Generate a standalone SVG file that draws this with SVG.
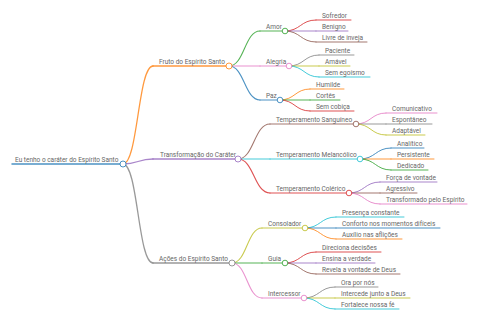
<svg xmlns="http://www.w3.org/2000/svg" width="480" height="320" viewBox="0 0 480 320">
<style>
.t{font-family:Roboto,"Liberation Sans",sans-serif;font-size:6.5px;fill:#666}
path,line{fill:none;stroke-linecap:round}
path,line,circle{stroke-opacity:0.8}
circle{fill:#fff}
.l0{stroke-width:1.5}.l1{stroke-width:1.3}.l2{stroke-width:1.1}.l3{stroke-width:1}
.blue{stroke:#1f77b4}.orange{stroke:#ff7f0e}.green{stroke:#2ca02c}.red{stroke:#d62728}.purple{stroke:#9467bd}.brown{stroke:#8c564b}.pink{stroke:#e377c2}.gray{stroke:#7f7f7f}.olive{stroke:#bcbd22}.cyan{stroke:#17becf}
</style>
<rect width="480" height="320" fill="#fff"/>
<g id="connectors">
<path class="l1 orange" d="M123,164 C138,164 138,66 153,66"/>
<path class="l1 purple" d="M123,164 C138,164 138,159 153,159"/>
<path class="l1 gray" d="M123,164 C138,164 138,263 153,263"/>
<path class="l2 green" d="M229,66 C244.5,66 244.5,31 260,31"/>
<path class="l2 pink" d="M229,66 L260,66"/>
<path class="l2 blue" d="M229,66 C244.5,66 244.5,100 260,100"/>
<path class="l2 brown" d="M238,159 C254,159 254,124 270,124"/>
<path class="l2 cyan" d="M238,159 L270,159"/>
<path class="l2 red" d="M238,159 C254,159 254,193 270,193"/>
<path class="l2 olive" d="M232,263 C247,263 247,228 262,228"/>
<path class="l2 green" d="M232,263 L262,263"/>
<path class="l2 pink" d="M232,263 C247,263 247,298 262,298"/>
<path class="l3 red" d="M285,31 C300.5,31 300.5,20 316,20"/>
<path class="l3 purple" d="M285,31 L316,31"/>
<path class="l3 brown" d="M285,31 C300.5,31 300.5,42 316,42"/>
<path class="l3 gray" d="M289,66 C304,66 304,55 319,55"/>
<path class="l3 olive" d="M289,66 L319,66"/>
<path class="l3 cyan" d="M289,66 C304,66 304,77 319,77"/>
<path class="l3 orange" d="M280,100 C295,100 295,89 310,89"/>
<path class="l3 green" d="M280,100 L310,100"/>
<path class="l3 red" d="M280,100 C295,100 295,111 310,111"/>
<path class="l3 pink" d="M356,124 C371,124 371,113 386,113"/>
<path class="l3 gray" d="M356,124 L386,124"/>
<path class="l3 olive" d="M356,124 C371,124 371,135 386,135"/>
<path class="l3 blue" d="M360,159 C375.5,159 375.5,148 391,148"/>
<path class="l3 orange" d="M360,159 L391,159"/>
<path class="l3 green" d="M360,159 C375.5,159 375.5,170 391,170"/>
<path class="l3 purple" d="M349,193 C364.5,193 364.5,182 380,182"/>
<path class="l3 brown" d="M349,193 L380,193"/>
<path class="l3 pink" d="M349,193 C364.5,193 364.5,204 380,204"/>
<path class="l3 cyan" d="M305,228 C320.5,228 320.5,217 336,217"/>
<path class="l3 blue" d="M305,228 L336,228"/>
<path class="l3 orange" d="M305,228 C320.5,228 320.5,239 336,239"/>
<path class="l3 red" d="M285,263 C300.5,263 300.5,252 316,252"/>
<path class="l3 purple" d="M285,263 L316,263"/>
<path class="l3 brown" d="M285,263 C300.5,263 300.5,274 316,274"/>
<path class="l3 gray" d="M304,298 C319.5,298 319.5,287 335,287"/>
<path class="l3 olive" d="M304,298 L335,298"/>
<path class="l3 cyan" d="M304,298 C319.5,298 319.5,309 335,309"/>
</g>
<g id="root"><line class="l0 blue" x1="12" y1="164" x2="123" y2="164"/><circle class="blue" cx="123" cy="164" r="3" stroke-width="1"/><text class="t" x="15" y="162">Eu tenho o caráter do Espírito Santo</text></g>
<g id="fruto"><line class="l1 orange" x1="153" y1="66" x2="229" y2="66"/><circle class="orange" cx="229" cy="66" r="3" stroke-width="1"/><text class="t" x="159" y="64">Fruto do Espírito Santo</text></g>
<g id="transformacao"><line class="l1 purple" x1="153" y1="159" x2="238" y2="159"/><circle class="purple" cx="238" cy="159" r="3" stroke-width="1"/><text class="t" x="160" y="157">Transformação do Caráter</text></g>
<g id="acoes"><line class="l1 gray" x1="153" y1="263" x2="232" y2="263"/><circle class="gray" cx="232" cy="263" r="3" stroke-width="1"/><text class="t" x="159" y="261">Ações do Espírito Santo</text></g>
<g id="amor"><line class="l2 green" x1="260" y1="31" x2="285" y2="31"/><circle class="green" cx="285" cy="31" r="2.8" stroke-width="1"/><text class="t" x="266" y="29">Amor</text></g>
<g id="alegria"><line class="l2 pink" x1="260" y1="66" x2="289" y2="66"/><circle class="pink" cx="289" cy="66" r="2.8" stroke-width="1"/><text class="t" x="266" y="64">Alegria</text></g>
<g id="paz"><line class="l2 blue" x1="260" y1="100" x2="280" y2="100"/><circle class="blue" cx="280" cy="100" r="2.8" stroke-width="1"/><text class="t" x="266" y="98">Paz</text></g>
<g id="sanguineo"><line class="l2 brown" x1="270" y1="124" x2="356" y2="124"/><circle class="brown" cx="356" cy="124" r="2.8" stroke-width="1"/><text class="t" x="276" y="122">Temperamento Sanguíneo</text></g>
<g id="melancolico"><line class="l2 cyan" x1="270" y1="159" x2="360" y2="159"/><circle class="cyan" cx="360" cy="159" r="2.8" stroke-width="1"/><text class="t" x="276" y="157">Temperamento Melancólico</text></g>
<g id="colerico"><line class="l2 red" x1="270" y1="193" x2="349" y2="193"/><circle class="red" cx="349" cy="193" r="2.8" stroke-width="1"/><text class="t" x="276" y="191">Temperamento Colérico</text></g>
<g id="consolador"><line class="l2 olive" x1="262" y1="228" x2="305" y2="228"/><circle class="olive" cx="305" cy="228" r="2.8" stroke-width="1"/><text class="t" x="268" y="226">Consolador</text></g>
<g id="guia"><line class="l2 green" x1="262" y1="263" x2="285" y2="263"/><circle class="green" cx="285" cy="263" r="2.8" stroke-width="1"/><text class="t" x="268" y="261">Guia</text></g>
<g id="intercessor"><line class="l2 pink" x1="262" y1="298" x2="304" y2="298"/><circle class="pink" cx="304" cy="298" r="2.8" stroke-width="1"/><text class="t" x="268" y="296">Intercessor</text></g>
<g id="sofredor"><line class="l3 red" x1="316" y1="20" x2="351" y2="20"/><text class="t" x="322" y="18">Sofredor</text></g>
<g id="benigno"><line class="l3 purple" x1="316" y1="31" x2="348" y2="31"/><text class="t" x="322" y="29">Benigno</text></g>
<g id="livre"><line class="l3 brown" x1="316" y1="42" x2="367" y2="42"/><text class="t" x="322" y="40">Livre de inveja</text></g>
<g id="paciente"><line class="l3 gray" x1="319" y1="55" x2="354" y2="55"/><text class="t" x="325" y="53">Paciente</text></g>
<g id="amavel"><line class="l3 olive" x1="319" y1="66" x2="350" y2="66"/><text class="t" x="325" y="64">Amável</text></g>
<g id="semegoismo"><line class="l3 cyan" x1="319" y1="77" x2="370" y2="77"/><text class="t" x="325" y="75">Sem egoísmo</text></g>
<g id="humilde"><line class="l3 orange" x1="310" y1="89" x2="344" y2="89"/><text class="t" x="316" y="87">Humilde</text></g>
<g id="cortes"><line class="l3 green" x1="310" y1="100" x2="340" y2="100"/><text class="t" x="316" y="98">Cortês</text></g>
<g id="semcobica"><line class="l3 red" x1="310" y1="111" x2="354" y2="111"/><text class="t" x="316" y="109">Sem cobiça</text></g>
<g id="comunicativo"><line class="l3 pink" x1="386" y1="113" x2="437" y2="113"/><text class="t" x="392" y="111">Comunicativo</text></g>
<g id="espontaneo"><line class="l3 gray" x1="386" y1="124" x2="432" y2="124"/><text class="t" x="392" y="122">Espontâneo</text></g>
<g id="adaptavel"><line class="l3 olive" x1="386" y1="135" x2="425" y2="135"/><text class="t" x="392" y="133">Adaptável</text></g>
<g id="analitico"><line class="l3 blue" x1="391" y1="148" x2="424" y2="148"/><text class="t" x="397" y="146">Analítico</text></g>
<g id="persistente"><line class="l3 orange" x1="391" y1="159" x2="434" y2="159"/><text class="t" x="397" y="157">Persistente</text></g>
<g id="dedicado"><line class="l3 green" x1="391" y1="170" x2="428" y2="170"/><text class="t" x="397" y="168">Dedicado</text></g>
<g id="forca"><line class="l3 purple" x1="380" y1="182" x2="437" y2="182"/><text class="t" x="386" y="180">Força de vontade</text></g>
<g id="agressivo"><line class="l3 brown" x1="380" y1="193" x2="417" y2="193"/><text class="t" x="386" y="191">Agressivo</text></g>
<g id="transformado"><line class="l3 pink" x1="380" y1="204" x2="467" y2="204"/><text class="t" x="386" y="202">Transformado pelo Espírito</text></g>
<g id="presenca"><line class="l3 cyan" x1="336" y1="217" x2="404" y2="217"/><text class="t" x="342" y="215">Presença constante</text></g>
<g id="conforto"><line class="l3 blue" x1="336" y1="228" x2="440" y2="228"/><text class="t" x="342" y="226">Conforto nos momentos difíceis</text></g>
<g id="auxilio"><line class="l3 orange" x1="336" y1="239" x2="402" y2="239"/><text class="t" x="342" y="237">Auxílio nas aflições</text></g>
<g id="direciona"><line class="l3 red" x1="316" y1="252" x2="381" y2="252"/><text class="t" x="322" y="250">Direciona decisões</text></g>
<g id="ensina"><line class="l3 purple" x1="316" y1="263" x2="375" y2="263"/><text class="t" x="322" y="261">Ensina a verdade</text></g>
<g id="revela"><line class="l3 brown" x1="316" y1="274" x2="400" y2="274"/><text class="t" x="322" y="272">Revela a vontade de Deus</text></g>
<g id="ora"><line class="l3 gray" x1="335" y1="287" x2="378" y2="287"/><text class="t" x="341" y="285">Ora por nós</text></g>
<g id="intercede"><line class="l3 olive" x1="335" y1="298" x2="410" y2="298"/><text class="t" x="341" y="296">Intercede junto a Deus</text></g>
<g id="fortalece"><line class="l3 cyan" x1="335" y1="309" x2="399" y2="309"/><text class="t" x="341" y="307">Fortalece nossa fé</text></g>
</svg>
